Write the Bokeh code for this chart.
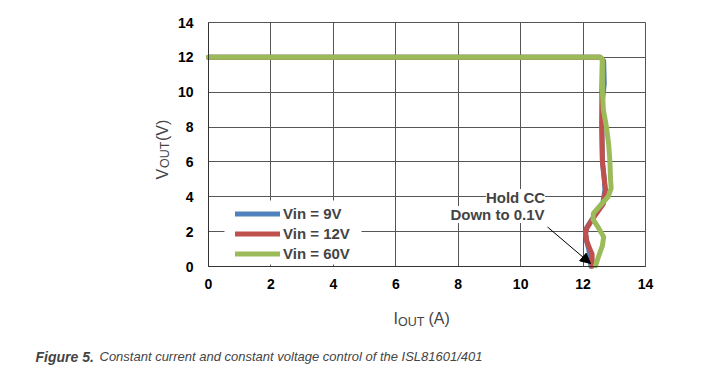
import math
from bokeh.plotting import figure
from bokeh.models import (Range1d, SingleIntervalTicker, Label, Arrow, NormalHead, Legend, LegendItem,
                          BoxAnnotation)
from bokeh.embed import file_html
from bokeh.resources import INLINE

# ---- data ----
x_9v = [0, 12.55, 12.66, 12.68, 12.62, 12.60, 12.62, 12.68, 12.70, 12.63, 12.44, 12.28, 12.11, 12.08, 12.12, 12.18, 12.22, 12.25]
y_9v = [12, 12.0, 11.8, 10.5, 9.5, 8.0, 6.0, 5.0, 4.4, 3.6, 3.1, 2.7, 2.2, 1.9, 1.4, 1.0, 0.5, 0.02]

x_12v = [0, 12.55, 12.62, 12.60, 12.60, 12.62, 12.68, 12.72, 12.65, 12.45, 12.30, 12.12, 12.08, 12.12, 12.22, 12.29, 12.29]
y_12v = [12, 12.0, 11.9, 10.0, 8.0, 6.0, 5.0, 4.4, 3.6, 3.1, 2.7, 2.2, 1.9, 1.45, 1.0, 0.7, 0.02]

x_60v = [0, 12.55, 12.62, 12.62, 12.65, 12.75, 12.82, 12.86, 12.88, 12.90, 12.80, 12.55, 12.33, 12.32, 12.50, 12.66, 12.62, 12.50, 12.40]
y_60v = [12, 12.0, 11.9, 10.0, 9.0, 8.0, 7.0, 6.0, 5.0, 4.5, 4.0, 3.5, 3.05, 2.7, 2.2, 1.7, 1.2, 0.6, 0.05]

series_names = ["Vin = 9V", "Vin = 12V", "Vin = 60V"]
series_colors = ["#4F81BD", "#C0504D", "#9BBB59"]

x_lim = (0, 14)
y_lim = (0, 14)
tick_interval = 2

# ---- geometry: the whole canvas is the frame; axes are fixed at data 0 ----
W, H = 718, 369
AX_L, AX_R = 208, 645      # pixel positions of x = 0 and x = 14
AX_B, AX_T = 266, 22       # pixel positions of y = 0 and y = 14
sx = (AX_R - AX_L) / (x_lim[1] - x_lim[0])
sy = (AX_B - AX_T) / (y_lim[1] - y_lim[0])
xr = Range1d(x_lim[0] - AX_L / sx, x_lim[0] + (W - AX_L) / sx)
yr = Range1d(y_lim[0] - (H - AX_B) / sy, y_lim[0] + AX_B / sy)

def dx(px):
    return x_lim[0] + (px - AX_L) / sx

def dy(py):
    return y_lim[0] + (AX_B - py) / sy

FONT = "Liberation Sans"

p = figure(width=W, height=H, output_backend="svg", toolbar_location=None,
           x_range=xr, y_range=yr,
           min_border_left=0, min_border_right=0, min_border_top=0, min_border_bottom=0)
p.outline_line_color = None
p.background_fill_color = "white"
p.border_fill_color = "white"

for ax in (p.xaxis, p.yaxis):
    ax.major_tick_in = 0
    ax.major_tick_out = 0
    ax.minor_tick_in = 0
    ax.minor_tick_out = 0
    ax.axis_line_color = "#333333"
    ax.axis_line_width = 1
    ax.major_label_text_font = FONT
    ax.major_label_text_font_style = "bold"
    ax.major_label_text_font_size = "14px"
    ax.major_label_text_color = "black"
    ax.fixed_location = 0
    ax.ticker = SingleIntervalTicker(interval=tick_interval)
p.xaxis.bounds = x_lim
p.yaxis.bounds = y_lim
p.xaxis.major_label_standoff = 12
p.yaxis.major_label_standoff = 15

p.xgrid.ticker = SingleIntervalTicker(interval=tick_interval)
p.ygrid.ticker = SingleIntervalTicker(interval=tick_interval)
p.xgrid.bounds = x_lim
p.xgrid.cross_bounds = y_lim
p.ygrid.bounds = y_lim
p.ygrid.cross_bounds = x_lim
for g in (p.xgrid, p.ygrid):
    g.grid_line_color = "#555555"
    g.grid_line_width = 1

renderers = []
for xs, ys, c in zip([x_9v, x_12v, x_60v], [y_9v, y_12v, y_60v], series_colors):
    r = p.line(xs, ys, line_color=c, line_width=5, line_join="round", line_cap="round")
    renderers.append(r)

# white legend box behind the legend entries
p.add_layout(BoxAnnotation(left=dx(224), right=dx(361), top=dy(200), bottom=dy(264),
                           fill_color="white", fill_alpha=1.0, line_color=None))
legend = Legend(items=[LegendItem(label=n, renderers=[r]) for n, r in zip(series_names, renderers)],
                location=(235, H - 263), padding=0, spacing=1, margin=0,
                glyph_width=45, glyph_height=19, label_height=19, label_standoff=3,
                label_text_font=FONT, label_text_font_style="bold", label_text_font_size="15px",
                border_line_color=None, background_fill_alpha=0.0)
p.add_layout(legend, "center")

# annotation
p.add_layout(Label(x=dx(515), y=dy(197), text="Hold CC", text_align="center", text_baseline="middle",
                   text_font=FONT, text_font_style="bold", text_font_size="15px",
                   background_fill_color="white", background_fill_alpha=1.0))
p.add_layout(Label(x=dx(497), y=dy(214), text="Down to 0.1V", text_align="center", text_baseline="middle",
                   text_font=FONT, text_font_style="bold", text_font_size="15px",
                   background_fill_color="white", background_fill_alpha=1.0))
p.add_layout(Arrow(x_start=dx(547), y_start=dy(226.5), x_end=dx(590), y_end=dy(263),
                   line_color="black", line_width=1,
                   end=NormalHead(size=10, fill_color="black", line_color="black")))

# x axis label: I_OUT (A)
p.add_layout(Label(x=dx(393), y=dy(317.5), text="I", text_align="left", text_baseline="alphabetic",
                   text_font=FONT, text_font_size="16px"))
p.add_layout(Label(x=dx(397.5), y=dy(321.5), text="OUT", text_align="left", text_baseline="alphabetic",
                   text_font=FONT, text_font_size="12.5px"))
p.add_layout(Label(x=dx(428), y=dy(317.5), text="(A)", text_align="left", text_baseline="alphabetic",
                   text_font=FONT, text_font_size="16px"))

# y axis label: V_OUT (V)
ang = math.pi / 2
p.add_layout(Label(x=dx(162), y=dy(179), text="V", angle=ang, text_align="left", text_baseline="alphabetic",
                   text_font=FONT, text_font_size="16px"))
p.add_layout(Label(x=dx(164.5), y=dy(167.5), text="OUT", angle=ang, text_align="left", text_baseline="alphabetic",
                   text_font=FONT, text_font_size="12.5px"))
p.add_layout(Label(x=dx(162), y=dy(140.5), text="(V)", angle=ang, text_align="left", text_baseline="alphabetic",
                   text_font=FONT, text_font_size="16px"))

# caption
p.add_layout(Label(x=dx(35), y=dy(356), text="Figure 5.", text_align="left", text_baseline="alphabetic",
                   text_font=FONT, text_font_style="bold italic", text_font_size="14px"))
p.add_layout(Label(x=dx(99), y=dy(356), text="Constant current and constant voltage control of the ISL81601/401",
                   text_align="left", text_baseline="alphabetic",
                   text_font=FONT, text_font_style="italic", text_font_size="13px"))

open("out.html", "w").write(file_html(p, INLINE))
